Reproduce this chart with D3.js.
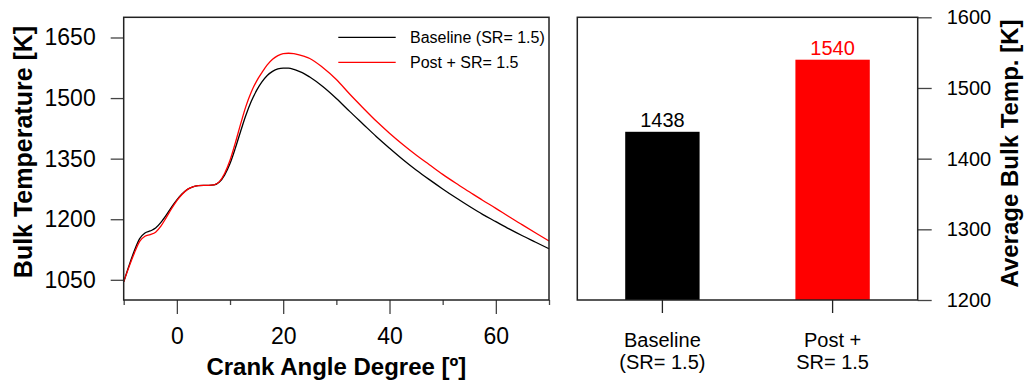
<!DOCTYPE html>
<html>
<head>
<meta charset="utf-8">
<script src="https://cdn.jsdelivr.net/npm/d3@7"></script>
<style>
  html, body { margin: 0; padding: 0; background: #fff; }
  svg { display: block; font-family: "Liberation Sans", Arial, sans-serif; }
</style>
</head>
<body>
<svg id="chart" width="1025" height="385"></svg>
<script>
// ---- Data ----
const crankAngle = [-10, -9, -8, -7, -6, -5, -4, -3, -2, -1, 0, 1, 2, 3, 4, 5, 6, 7, 8, 9, 10, 11, 12, 13, 14, 15, 16, 17, 18, 19, 20, 21, 22, 23, 24, 25, 27.5, 30, 32.5, 35, 37.5, 40, 42.5, 45, 47.5, 50, 52.5, 55, 57.5, 60, 62.5, 65, 67.5, 70];
const baselineTemp = [1045, 1085, 1122, 1152, 1166, 1171, 1178, 1192, 1210, 1230, 1248, 1263, 1274, 1280, 1283, 1284, 1284, 1285, 1292, 1310, 1338, 1376, 1418, 1458, 1492, 1519, 1540, 1556, 1566, 1572, 1574, 1574, 1571, 1566, 1560, 1552, 1528, 1499, 1467, 1436, 1405, 1376, 1348, 1322, 1298, 1275, 1253, 1232, 1212, 1194, 1176, 1159, 1143, 1127];
const postTemp = [1045, 1082, 1116, 1145, 1158, 1162, 1168, 1183, 1204, 1226, 1246, 1262, 1274, 1280, 1283, 1284, 1284, 1285, 1293, 1314, 1346, 1389, 1436, 1480, 1515, 1542, 1563, 1582, 1596, 1605, 1610, 1611, 1610, 1607, 1603, 1598, 1575, 1546, 1510, 1476, 1443, 1413, 1385, 1359, 1335, 1311, 1289, 1268, 1247, 1227, 1206, 1186, 1166, 1146];
const seriesNames = ["Baseline (SR= 1.5)", "Post + SR= 1.5"];
const seriesColors = ["#000000", "#ff0000"];

const barCategories = ["Baseline|(SR= 1.5)", "Post +|SR= 1.5"];
const barValues = [1438, 1540];

const leftYTicks = [1050, 1200, 1350, 1500, 1650];
const xMajorTicks = [0, 20, 40, 60];
const xMinorTicks = [-10, 10, 30, 50, 70];
const rightYTicks = [1200, 1300, 1400, 1500, 1600];

// ---- Setup ----
const svg = d3.select("#chart");
const FONT = '"Liberation Sans", Arial, sans-serif';
const tickColor = "#444";

// Left panel
const L = { x0: 123.7, x1: 549, y0: 17.3, y1: 300 };
const x = d3.scaleLinear().domain([-10, 70]).range([L.x0, L.x1]);
const y = d3.scaleLinear().domain([1000, 1700]).range([L.y1, L.y0]);

const gL = svg.append("g");

// y axis
const yAx = gL.append("g").attr("transform", `translate(${L.x0},0)`)
  .call(d3.axisLeft(y).tickValues(leftYTicks).tickSize(13).tickPadding(15).tickFormat(d3.format("d")));
yAx.select(".domain").remove();
yAx.selectAll("line").attr("stroke", tickColor).attr("stroke-width", 1.3);
yAx.selectAll("text").attr("font-size", 23).attr("font-family", FONT).attr("fill", "#000");

// x axis major
const xAx = gL.append("g").attr("transform", `translate(0,${L.y1})`)
  .call(d3.axisBottom(x).tickValues(xMajorTicks).tickSize(14).tickPadding(14).tickFormat(d3.format("d")));
xAx.select(".domain").remove();
xAx.selectAll("line").attr("stroke", tickColor).attr("stroke-width", 1.3);
xAx.selectAll("text").attr("font-size", 23).attr("font-family", FONT).attr("fill", "#000");
// x minor
const xAxm = gL.append("g").attr("transform", `translate(0,${L.y1})`)
  .call(d3.axisBottom(x).tickValues(xMinorTicks).tickSize(5).tickFormat(""));
xAxm.select(".domain").remove();
xAxm.selectAll("line").attr("stroke", tickColor).attr("stroke-width", 1.3);

// lines
const lineGen = (vals) => d3.line()
  .x((d, i) => x(crankAngle[i]))
  .y((d) => y(d))
  .curve(d3.curveMonotoneX)(vals);

gL.append("path").attr("d", lineGen(baselineTemp)).attr("fill", "none").attr("stroke", seriesColors[0]).attr("stroke-width", 1.3);
gL.append("path").attr("d", lineGen(postTemp)).attr("fill", "none").attr("stroke", seriesColors[1]).attr("stroke-width", 1.3);

// frame
gL.append("rect").attr("x", L.x0).attr("y", L.y0).attr("width", L.x1 - L.x0).attr("height", L.y1 - L.y0)
  .attr("fill", "none").attr("stroke", "#222").attr("stroke-width", 1.5);

// legend
seriesNames.forEach((name, i) => {
  const ly = 37.3 + i * 25;
  gL.append("line").attr("x1", 338.3).attr("x2", 395.7).attr("y1", ly).attr("y2", ly)
    .attr("stroke", seriesColors[i]).attr("stroke-width", 1.2);
  gL.append("text").attr("x", 410).attr("y", ly + 5.5).text(name)
    .attr("font-size", 16).attr("font-family", FONT).attr("fill", "#000");
});

// titles
gL.append("text").attr("x", (L.x0 + L.x1) / 2).attr("y", 375).attr("text-anchor", "middle")
  .attr("font-size", 24).attr("font-weight", "bold").attr("font-family", FONT).text("Crank Angle Degree [º]");
gL.append("text").attr("transform", `translate(32,152) rotate(-90)`).attr("text-anchor", "middle")
  .attr("font-size", 25).attr("font-weight", "bold").attr("font-family", FONT).text("Bulk Temperature [K]");

// Right panel
const R = { x0: 577.3, x1: 917.7, y0: 17.3, y1: 300 };
const xb = d3.scaleBand().domain(barCategories).range([R.x0, R.x1]).paddingInner(0.563).paddingOuter(0.2815);
const yb = d3.scaleLinear().domain([1200, 1600]).range([R.y1, R.y0]);

const gR = svg.append("g");

gR.selectAll("rect.bar").data(barValues).enter().append("rect").attr("class", "bar")
  .attr("x", (d, i) => xb(barCategories[i]))
  .attr("width", xb.bandwidth())
  .attr("y", d => yb(d))
  .attr("height", d => R.y1 - yb(d))
  .attr("fill", (d, i) => seriesColors[i]);

gR.selectAll("text.val").data(barValues).enter().append("text").attr("class", "val")
  .attr("x", (d, i) => xb(barCategories[i]) + xb.bandwidth() / 2)
  .attr("y", d => yb(d) - 5)
  .attr("text-anchor", "middle").attr("font-size", 20).attr("font-family", FONT)
  .attr("fill", (d, i) => seriesColors[i]).text(d => d);

// right y axis
const ybAx = gR.append("g").attr("transform", `translate(${R.x1},0)`)
  .call(d3.axisRight(yb).tickValues(rightYTicks).tickSize(14).tickPadding(15).tickFormat(d3.format("d")));
ybAx.select(".domain").remove();
ybAx.selectAll("line").attr("stroke", tickColor).attr("stroke-width", 1.3);
ybAx.selectAll("text").attr("font-size", 20).attr("font-family", FONT).attr("fill", "#000");

// category axis
const xbAx = gR.append("g").attr("transform", `translate(0,${R.y1})`)
  .call(d3.axisBottom(xb).tickSize(13).tickFormat(""));
xbAx.select(".domain").remove();
xbAx.selectAll("line").attr("stroke", "#222").attr("stroke-width", 1.3);
barCategories.forEach((c) => {
  const parts = c.split("|");
  const cx = xb(c) + xb.bandwidth() / 2;
  parts.forEach((p, j) => {
    gR.append("text").attr("x", cx).attr("y", 347 + j * 22).attr("text-anchor", "middle")
      .attr("font-size", 20).attr("font-family", FONT).attr("fill", "#000").text(p);
  });
});

gR.append("rect").attr("x", R.x0).attr("y", R.y0).attr("width", R.x1 - R.x0).attr("height", R.y1 - R.y0)
  .attr("fill", "none").attr("stroke", "#222").attr("stroke-width", 1.5);

gR.append("text").attr("transform", `translate(1018,153.5) rotate(-90)`).attr("text-anchor", "middle")
  .attr("font-size", 24).attr("font-weight", "bold").attr("font-family", FONT).text("Average Bulk Temp. [K]");
</script>
</body>
</html>
